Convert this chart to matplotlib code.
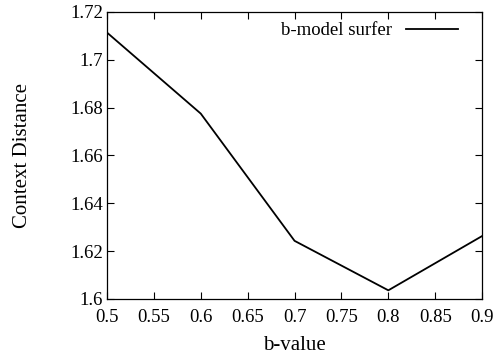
import matplotlib
matplotlib.use("Agg")
import matplotlib.pyplot as plt

plt.rcParams['font.family'] = ['Liberation Serif', 'DejaVu Serif']

b_values = [0.5, 0.6, 0.7, 0.8, 0.9]
context_distance = [1.7114, 1.6775, 1.6243, 1.6036, 1.6263]
x_ticks = [0.5, 0.55, 0.6, 0.65, 0.7, 0.75, 0.8, 0.85, 0.9]
y_ticks = [1.6, 1.62, 1.64, 1.66, 1.68, 1.7, 1.72]

fig = plt.figure(figsize=(4.96, 3.58), dpi=100)
ax = fig.add_axes([0.2157, 0.165, 0.7563, 0.8015])

ax.plot(b_values, context_distance, color='black', linewidth=1.3, label='b-model surfer')

ax.set_xlim(0.5, 0.9)
ax.set_ylim(1.6, 1.72)
ax.set_xticks(x_ticks)
ax.set_xticklabels(['0.5', '0.55', '0.6', '0.65', '0.7', '0.75', '0.8', '0.85', '0.9'])
ax.set_yticks(y_ticks)
ax.set_yticklabels(['1.6', '1.62', '1.64', '1.66', '1.68', '1.7', '1.72'])
ax.tick_params(direction='in', top=True, right=True, length=5, width=0.8,
               labelsize=13.5)
ax.tick_params(axis='x', pad=7)
ax.tick_params(axis='y', pad=3)
for s in ax.spines.values():
    s.set_linewidth(0.9)

# gnuplot-like label placement
ax.set_xlabel('b-value', fontsize=15, va='center')
ax.set_ylabel('Context Distance', fontsize=15, va='center')
ax.xaxis.set_label_coords(0.5, -0.164)
ax.yaxis.set_label_coords(-0.225, 0.5)

ax.legend(loc='upper right', bbox_to_anchor=(0.956, 0.99), frameon=False,
          markerfirst=False, fontsize=13.5, handlelength=2.8,
          handletextpad=0.7, borderaxespad=0)

fig.savefig('out.png', dpi=100)
